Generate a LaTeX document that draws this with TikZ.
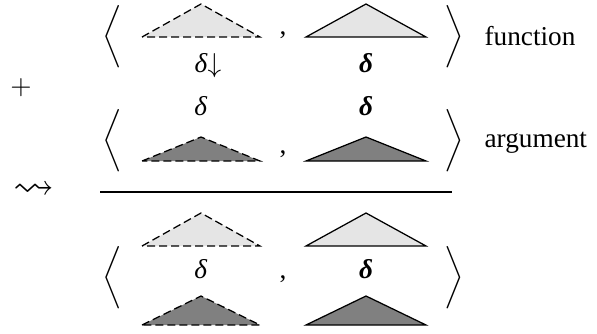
\documentclass[tikz,border=0pt]{standalone}
\usepackage{amssymb}
\usepackage{graphicx}
\usepackage{fontspec}
\setmainfont{Liberation Serif}
\usetikzlibrary{arrows.meta}

\begin{document}
\begin{tikzpicture}[x=0.4pt, y=-0.4pt, line width=0.5pt,
    font=\fontsize{10.9}{13}\selectfont,
    tri/.style={line join=miter},
    lightfill/.style={fill=black!10},
    darkfill/.style={fill=black!50},
    dashedge/.style={dash pattern=on 3.2pt off 1.6pt},
    brk/.style={inner sep=0pt},
    txt/.style={anchor=base, inner sep=0pt}]

\useasboundingbox (0,0) rectangle (597,333);

% ═══════════════════════════════════════════════════════
% FUNCTION (arriba)
% ═══════════════════════════════════════════════════════

\node[brk] (fnL) at (112,37) {\resizebox*{!}{25pt}{$\bigg\langle$}};
\draw[tri, lightfill, dashedge] (142,37) -- (201,4) -- (260,37) -- cycle;
\node[txt] (fnC) at (283,34) {,};
\draw[tri, lightfill] (306,37) -- (366,4) -- (426,37) -- cycle;
\node[brk] (fnR) at (454,37) {\resizebox*{!}{25pt}{$\bigg\rangle$}};
\node[txt, anchor=base west] (fnT) at (484,45) {function};

\node[txt] (fnD) at (208,72) {\textit{δ}$\downarrow$};
\node[txt] (fnB) at (366,72) {\textbf{\textit{δ}}};

% ═══════════════════════════════════════════════════════
% ARGUMENT
% ═══════════════════════════════════════════════════════

\node[brk] (plus) at (21,88) {$+$};

\node[txt] (agD) at (201,115) {\textit{δ}};
\node[txt] (agB) at (366,115) {\textbf{\textit{δ}}};

\node[brk] (agL) at (112,141) {\resizebox*{!}{25pt}{$\bigg\langle$}};
\draw[tri, darkfill, dashedge] (142,161) -- (201,137) -- (260,161) -- cycle;
\node[txt] (agC) at (283,153) {,};
\draw[tri, darkfill] (306,161) -- (366,137) -- (426,161) -- cycle;
\node[brk] (agR) at (454,141) {\resizebox*{!}{25pt}{$\bigg\rangle$}};
\node[txt, anchor=base west] (agT) at (484,147) {argument};

% ═══════════════════════════════════════════════════════
% RESULTADO
% ═══════════════════════════════════════════════════════

\node[brk] (lead) at (34,191) {\scalebox{1.5}{$\leadsto$}};
\coordinate (ruleL) at (100,192);
\coordinate (ruleR) at (452,192);
\draw (ruleL) -- (ruleR);

\draw[tri, lightfill, dashedge] (142,246) -- (201,213) -- (260,246) -- cycle;
\draw[tri, lightfill] (306,246) -- (366,213) -- (426,246) -- cycle;

\node[brk] (rsL) at (112,278) {\resizebox*{!}{25pt}{$\bigg\langle$}};
\node[txt] (rsD) at (201,278) {\textit{δ}};
\node[txt] (rsC) at (283,278) {,};
\node[txt] (rsB) at (366,278) {\textbf{\textit{δ}}};
\node[brk] (rsR) at (454,278) {\resizebox*{!}{25pt}{$\bigg\rangle$}};

\draw[tri, darkfill, dashedge] (142,325) -- (201,296) -- (260,325) -- cycle;
\draw[tri, darkfill] (306,325) -- (366,296) -- (426,325) -- cycle;

\end{tikzpicture}
\end{document}
